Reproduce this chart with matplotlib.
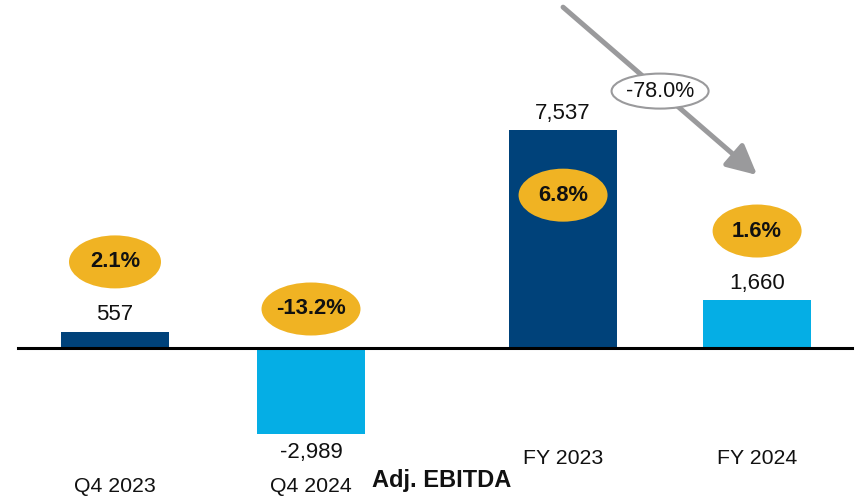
import matplotlib.pyplot as plt
from matplotlib.patches import Ellipse

plt.rcParams['font.family'] = ['Liberation Sans', 'DejaVu Sans']

# Data
categories = ['Q4 2023', 'Q4 2024', 'FY 2023', 'FY 2024']
ebitda = [557, -2989, 7537, 1660]
value_labels = ['557', '-2,989', '7,537', '1,660']
margins = ['2.1%', '-13.2%', '6.8%', '1.6%']
change_label = '-78.0%'
axis_title = 'Adj. EBITDA'

# Layout
positions = [0, 1, 2.286, 3.276]
bar_colors = ['#00427A', '#05AEE5', '#00427A', '#05AEE5']
gold = '#F0B323'
PX_X = 1 / 196.0      # data units per pixel (x)
PX_Y = 34.6           # data units per pixel (y)

fig = plt.figure(figsize=(8.59, 4.96), dpi=100)
ax = fig.add_axes([0, 0, 1, 1])
ax.set_xlim(-115 * PX_X, (859 - 115) * PX_X)
ax.set_ylim(-148 * PX_Y, (496 - 148) * PX_Y)
ax.axis('off')

ax.bar(positions, ebitda, width=0.55, color=bar_colors, zorder=2)
ax.axhline(0, xmin=18 / 859, xmax=852 / 859, color='black', lw=2.2, zorder=3)

# value labels
for x, v, lab in zip(positions, ebitda, value_labels):
    off = 17 if v >= 0 else -18
    ax.annotate(lab, (x, v), xytext=(0, off * 0.72), textcoords='offset points',
                ha='center', va='center', fontsize=16, color='#111111')

# margin bubbles (pixel offsets from bar top / baseline)
bubble_ref = [ebitda[0], 0, ebitda[2], ebitda[3]]
bubble_off = [70, 39, -65, 69]
bubble_w = [92, 99, 89, 89]
for x, ref, off, w, m in zip(positions, bubble_ref, bubble_off, bubble_w, margins):
    yc = ref + off * PX_Y
    ax.add_patch(Ellipse((x, yc), w * PX_X, 53 * PX_Y, color=gold, lw=0, zorder=4))
    ax.text(x, yc, m, ha='center', va='center', fontsize=15.8, fontweight='bold',
            color='#111111', zorder=5)

# category labels
cat_y = [10, 10, 38, 38]
for x, c, py in zip(positions, categories, cat_y):
    ax.text(x, py / 496, c, transform=ax.get_xaxis_transform(), ha='center',
            va='center', fontsize=15.3, color='#111111')

ax.text(442 / 859, 16 / 496, axis_title, transform=ax.transAxes, ha='center',
        va='center', fontsize=17, fontweight='bold', color='#111111')

# change arrow FY 2023 -> FY 2024
start = (positions[2], ebitda[2] + 123 * PX_Y)
end = (positions[3], ebitda[3] + 125 * PX_Y)
ax.annotate('', xy=end, xytext=start,
            arrowprops=dict(arrowstyle='-|>,head_length=0.9,head_width=0.45',
                            mutation_scale=20, lw=3.6, color='#9A9A9C',
                            shrinkA=0, shrinkB=0), zorder=5)
mid = ((start[0] + end[0]) / 2, (start[1] + end[1]) / 2)
ax.add_patch(Ellipse(mid, 97 * PX_X, 35 * PX_Y, facecolor='white',
                     edgecolor='#9A9A9C', lw=1.5, zorder=6))
ax.text(mid[0], mid[1], change_label, ha='center', va='center', fontsize=15.5,
        color='#111111', zorder=7)

fig.savefig('out.png', dpi=100)
